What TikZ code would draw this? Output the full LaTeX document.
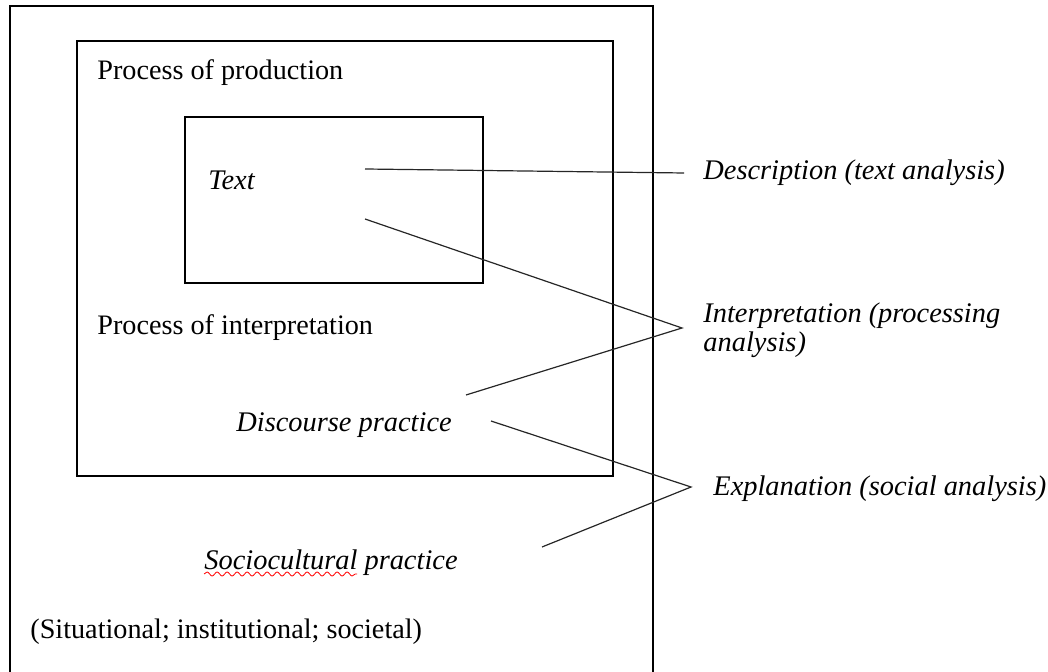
\documentclass[tikz,border=0pt]{standalone}
\usepackage{fontspec}
\setmainfont{Liberation Serif}
\usepackage{xcolor}
\usepackage{tikz}
\usetikzlibrary{positioning, calc, decorations.pathmorphing}
\tikzstyle{frame} = [draw=black, line width=0.6pt]
\tikzstyle{link} = [line width=0.6pt, draw=black!85]
\tikzstyle{plain} = [anchor=base west, inner sep=0pt, font=\fontsize{14.1}{14.5}\selectfont]
\tikzstyle{level} = [anchor=base west, inner sep=0pt, font=\fontsize{14.2}{14.5}\selectfont\itshape]

\begin{document}
\begin{tikzpicture}[x=0.5pt, y=-0.5pt]
    \useasboundingbox (0,0) rectangle (1048,672);
    % Boxes
    \draw[frame] (10,672) -- (10,6) -- (653,6) -- (653,672);
    \draw[frame] (77,41) rectangle (613,476);
    \draw[frame] (185,117) rectangle (483,283);

    % Texts inside
    \node[plain] (production) at (97,80) {Process of production};
    \node[level] (text) at (208,190) {Text};
    \node[plain] (interpretation) at (97,335) {Process of interpretation};
    \node[level] (discourse) at (236,432) {Discourse practice};
    \node[level] (socio) at (204,569) {Sociocultural practice};
    \node[plain] (situational) at (30,638) {(Situational; institutional; societal)};
    \draw[red, line width=0.4pt, decorate, decoration={snake, amplitude=1pt, segment length=5pt}]
        (204,574) -- (357,574);

    % Levels of analysis
    \node[level, align=left] (processing) at (703,352) {Interpretation (processing\\analysis)};
    \node[level] (description) at (703,180) {Description (text analysis)};
    \node[level] (explanation) at (713,496) {Explanation (social analysis)};

    % Connector ends
    \coordinate (t1) at (365,169);
    \coordinate (t2) at (365,219);
    \coordinate (d1) at (466,395);
    \coordinate (d2) at (491,421);
    \coordinate (s1) at (542,547);
    \coordinate (desc) at (684,173);
    \coordinate (proc) at (682,328);
    \coordinate (expl) at (691,487);

    % Connectors
    \draw[link] (t1) -- (desc);
    \draw[link] (t2) -- (proc) -- (d1);
    \draw[link] (d2) -- (expl) -- (s1);
\end{tikzpicture}
\end{document}
